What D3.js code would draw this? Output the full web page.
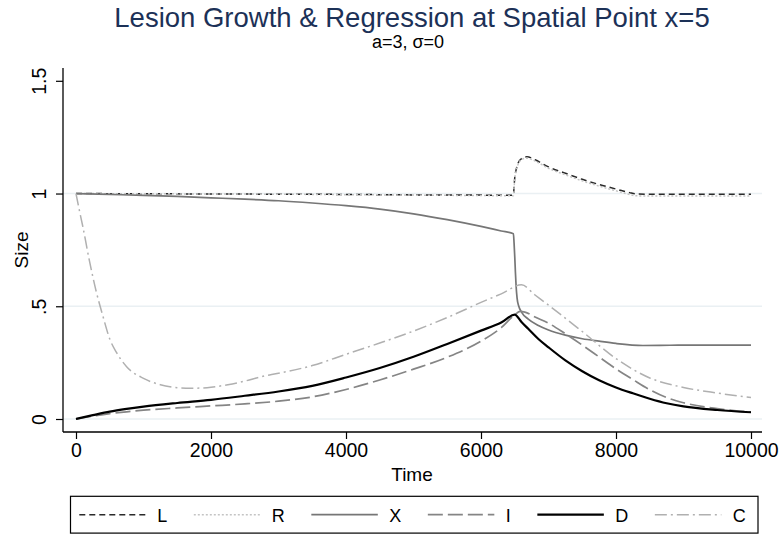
<!DOCTYPE html>
<html>
<head>
<meta charset="utf-8">
<script src="https://cdn.jsdelivr.net/npm/d3@7"></script>
<style>
body { margin: 0; background: #fff; }
text { font-family: "Liberation Sans", Arial, sans-serif; }
</style>
</head>
<body>
<div id="chart"></div>
<script>
'use strict';

// ---- data ----
var titleText = 'Lesion Growth & Regression at Spatial Point x=5';
var subtitleText = 'a=3, \u03c3=0';

var xTicks = [0, 2000, 4000, 6000, 8000, 10000];
var yTicks = [0, 0.5, 1, 1.5];
var yTickLabels = ['0', '.5', '1', '1.5'];
var yGrid = [0, 0.5, 1];

var seriesNames = ['L', 'R', 'X', 'I', 'D', 'C'];

var seriesL = [[0,1.0],[1000,0.999],[2000,0.998],[3000,0.997],[4000,0.996],[5000,0.994],[6000,0.993],[6480,0.992],
  [6490,1.03],[6500,1.07],[6520,1.105],[6550,1.135],[6600,1.155],[6680,1.163],[6800,1.15],[7000,1.118],
  [7250,1.09],[7500,1.063],[7750,1.04],[8000,1.02],[8200,1.004],[8300,0.998],[8500,0.997],[9000,0.997],[10000,0.997]];

var seriesR = [[0,1.0],[1000,0.999],[2000,0.998],[3000,0.997],[4000,0.995],[5000,0.993],[6000,0.991],[6480,0.99],
  [6490,1.025],[6500,1.065],[6520,1.1],[6550,1.13],[6600,1.15],[6680,1.157],[6800,1.144],[7000,1.112],
  [7250,1.083],[7500,1.056],[7750,1.033],[8000,1.012],[8200,0.996],[8300,0.99],[8500,0.989],[9000,0.989],[10000,0.989]];

var seriesX = [[0,1.0],[500,0.996],[1000,0.992],[1500,0.987],[2000,0.981],[2500,0.975],[3000,0.968],[3500,0.958],
  [4000,0.946],[4500,0.931],[5000,0.91],[5500,0.884],[6000,0.854],[6300,0.834],[6480,0.822],[6490,0.78],
  [6500,0.72],[6510,0.65],[6520,0.59],[6535,0.535],[6560,0.5],[6600,0.474],[6700,0.443],[6850,0.415],
  [7000,0.395],[7250,0.372],[7500,0.356],[7750,0.345],[8000,0.335],[8400,0.326],[8800,0.327],[9400,0.328],[10000,0.328]];

var seriesI = [[0,0],[250,0.013],[500,0.024],[750,0.032],[1000,0.039],[1500,0.049],[2000,0.058],[2500,0.067],
  [3000,0.079],[3500,0.098],[4000,0.131],[4500,0.173],[5000,0.221],[5500,0.274],[6000,0.345],[6300,0.405],
  [6500,0.462],[6580,0.477],[6650,0.474],[6800,0.452],[7000,0.425],[7250,0.378],[7500,0.328],[7750,0.275],
  [8000,0.222],[8250,0.175],[8500,0.13],[8750,0.095],[9000,0.072],[9500,0.046],[10000,0.031]];

var seriesD = [[0,0],[250,0.017],[500,0.033],[750,0.045],[1000,0.055],[1500,0.071],[2000,0.085],[2500,0.103],
  [3000,0.122],[3500,0.147],[4000,0.184],[4500,0.226],[5000,0.276],[5500,0.333],[6000,0.392],[6300,0.428],
  [6500,0.463],[6600,0.43],[6700,0.4],[6850,0.355],[7000,0.318],[7250,0.26],[7500,0.212],[7750,0.172],
  [8000,0.14],[8250,0.114],[8500,0.09],[8750,0.07],[9000,0.056],[9500,0.04],[10000,0.03]];

var seriesC = [[0,1.0],[50,0.925],[100,0.855],[200,0.70],[300,0.565],[400,0.455],[500,0.355],[600,0.295],
  [750,0.232],[1000,0.18],[1250,0.152],[1500,0.139],[1700,0.136],[2000,0.141],[2250,0.152],[2500,0.168],
  [2750,0.188],[3000,0.203],[3500,0.237],[4000,0.287],[4500,0.337],[5000,0.39],[5500,0.45],[6000,0.517],
  [6300,0.555],[6600,0.595],[6800,0.55],[7000,0.505],[7500,0.388],[8000,0.268],[8500,0.182],[9000,0.14],
  [9500,0.115],[10000,0.095]];

// ---- styles ----
var myChart = {};

myChart.styles = {
  L: { color: '#2a2a2a', width: 1.5, dash: '6,4' },
  R: { color: '#c4c4c4', width: 1.5, dash: '2,2' },
  X: { color: '#767676', width: 1.7, dash: null },
  I: { color: '#858585', width: 1.7, dash: '15,5' },
  D: { color: '#000000', width: 2.2, dash: null },
  C: { color: '#b0b0b0', width: 1.5, dash: '12,4,2,4' }
};

myChart.plot = { left: 63, right: 762, top: 68, bottom: 432 };
myChart.font = '"Liberation Sans", Arial, sans-serif';

myChart.run = function() {
  var svg = d3.select('#chart').append('svg')
    .attr('width', 779)
    .attr('height', 534);

  var p = myChart.plot;
  var xScale = d3.scaleLinear().domain([0, 10000]).range([76, 751]);
  var yScale = d3.scaleLinear().domain([0, 1.5]).range([419, 80.8]);

  // titles
  svg.append('text')
    .attr('x', 412).attr('y', 27)
    .attr('text-anchor', 'middle')
    .attr('font-size', 27.5)
    .attr('fill', '#1c3157')
    .text(titleText);

  svg.append('text')
    .attr('x', 408).attr('y', 48)
    .attr('text-anchor', 'middle')
    .attr('font-size', 18)
    .attr('fill', '#000')
    .text(subtitleText);

  // grid lines
  svg.append('g').selectAll('line')
    .data(yGrid)
    .enter().append('line')
    .attr('x1', p.left).attr('x2', p.right)
    .attr('y1', function(d) { return yScale(d); })
    .attr('y2', function(d) { return yScale(d); })
    .attr('stroke', '#eaf0f3')
    .attr('stroke-width', 1.5);

  // y axis
  var yAxis = d3.axisLeft(yScale)
    .tickValues(yTicks)
    .tickSize(7)
    .tickFormat(function(d, i) { return yTickLabels[i]; });

  var yAxisGroup = svg.append('g')
    .attr('transform', 'translate(' + p.left + ',0)')
    .call(yAxis);
  yAxisGroup.select('.domain').remove();
  yAxisGroup.selectAll('.tick line').attr('stroke', '#000').attr('stroke-width', 1.2);
  yAxisGroup.selectAll('.tick text')
    .attr('font-family', myChart.font)
    .attr('font-size', 19.5)
    .attr('fill', '#000')
    .attr('text-anchor', 'middle')
    .attr('x', null).attr('dy', null).attr('y', 0)
    .attr('transform', 'translate(-17.5,0) rotate(-90)');

  svg.append('line')
    .attr('x1', p.left).attr('x2', p.left)
    .attr('y1', p.top).attr('y2', p.bottom)
    .attr('stroke', '#000').attr('stroke-width', 1.3);

  // x axis
  var xAxis = d3.axisBottom(xScale)
    .tickValues(xTicks)
    .tickSize(7)
    .tickFormat(d3.format('d'));

  var xAxisGroup = svg.append('g')
    .attr('transform', 'translate(0,' + p.bottom + ')')
    .call(xAxis);
  xAxisGroup.select('.domain').remove();
  xAxisGroup.selectAll('.tick line').attr('stroke', '#000').attr('stroke-width', 1.2);
  xAxisGroup.selectAll('.tick text')
    .attr('font-family', myChart.font)
    .attr('font-size', 19.5)
    .attr('fill', '#000')
    .attr('dy', null)
    .attr('y', 25.3);

  svg.append('line')
    .attr('x1', p.left).attr('x2', p.right)
    .attr('y1', p.bottom).attr('y2', p.bottom)
    .attr('stroke', '#000').attr('stroke-width', 1.3);

  // axis titles
  svg.append('text')
    .attr('x', 412).attr('y', 481)
    .attr('text-anchor', 'middle')
    .attr('font-size', 19)
    .text('Time');

  svg.append('text')
    .attr('transform', 'translate(28,250) rotate(-90)')
    .attr('text-anchor', 'middle')
    .attr('font-size', 19)
    .text('Size');

  // lines
  var line = d3.line()
    .x(function(d) { return xScale(d[0]); })
    .y(function(d) { return yScale(d[1]); })
    .curve(d3.curveMonotoneX);

  var allSeries = [seriesL, seriesR, seriesX, seriesI, seriesD, seriesC];
  var lines = svg.append('g');
  allSeries.forEach(function(s, i) {
    var st = myChart.styles[seriesNames[i]];
    lines.append('path')
      .datum(s)
      .attr('d', line)
      .attr('fill', 'none')
      .attr('stroke', st.color)
      .attr('stroke-width', st.width)
      .attr('stroke-dasharray', st.dash);
  });

  // legend
  var lg = svg.append('g');
  lg.append('rect')
    .attr('x', 70.5).attr('y', 496.3)
    .attr('width', 687.5).attr('height', 36.8)
    .attr('fill', '#fff')
    .attr('stroke', '#000')
    .attr('stroke-width', 1.2);

  var xPos = 79.3;
  seriesNames.forEach(function(name) {
    var st = myChart.styles[name];
    lg.append('line')
      .attr('x1', xPos).attr('x2', xPos + 66.5)
      .attr('y1', 514.7).attr('y2', 514.7)
      .attr('stroke', st.color)
      .attr('stroke-width', st.width)
      .attr('stroke-dasharray', st.dash);
    var t = lg.append('text')
      .attr('x', xPos + 78).attr('y', 521.7)
      .attr('font-size', 18)
      .text(name);
    xPos = xPos + 78 + t.node().getComputedTextLength() + 26.5;
  });
};

window.onload = function() {
  myChart.run();
};
</script>
</body>
</html>
